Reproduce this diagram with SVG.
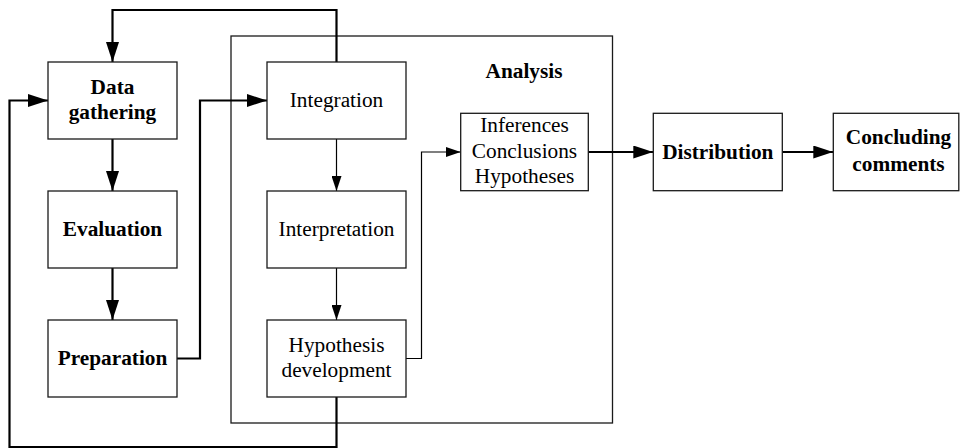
<svg xmlns="http://www.w3.org/2000/svg" width="960" height="448" viewBox="0 0 960 448">
  <style>
    .box { fill: #fff; stroke: #1a1a1a; stroke-width: 1.3; }
    .frame { fill: none; stroke: #1a1a1a; stroke-width: 1.3; }
    .thick { fill: none; stroke: #000; stroke-width: 2.2; }
    .thin { fill: none; stroke: #000; stroke-width: 1.2; }
    text { font-family: "Liberation Serif", "Times New Roman", serif; font-size: 21.3px; fill: #000; text-anchor: middle; }
    .b { font-weight: bold; }
  </style>
  <defs>
    <marker id="arrowBig" markerUnits="userSpaceOnUse" markerWidth="20" markerHeight="13" refX="20" refY="6.5" orient="auto">
      <path d="M0,0 L20,6.5 L0,13 z" fill="#000"/>
    </marker>
    <marker id="arrowSmall" markerUnits="userSpaceOnUse" markerWidth="15" markerHeight="10" refX="15" refY="5" orient="auto">
      <path d="M0,0 L15,5 L0,10 z" fill="#000"/>
    </marker>
  </defs>

  <!-- Analysis frame -->
  <g id="analysis">
    <rect class="frame" x="231" y="36" width="381.5" height="387"/>
    <text class="b" x="524" y="78">Analysis</text>
  </g>

  <g id="connectors">
    <!-- feedback from integration back to data gathering -->
    <path class="thick" d="M336.5,62 V10 H112.5 V62" marker-end="url(#arrowBig)"/>
    <!-- feedback from hypothesis development back to data gathering -->
    <path class="thick" d="M336.5,397 V447 H9.5 V100.5 H48" marker-end="url(#arrowBig)"/>
    <path class="thick" d="M112.5,139 V191" marker-end="url(#arrowBig)"/>
    <path class="thick" d="M112.5,268 V320" marker-end="url(#arrowBig)"/>
    <path class="thick" d="M177,358.5 H200 V100.5 H267" marker-end="url(#arrowBig)"/>
    <path class="thin" d="M336.5,139 V191" marker-end="url(#arrowSmall)"/>
    <path class="thin" d="M336.5,268 V320" marker-end="url(#arrowSmall)"/>
    <path class="thin" d="M406,358.5 H421.5 V152 H460.7" marker-end="url(#arrowSmall)"/>
    <path class="thick" d="M588.3,152 H653.3" marker-end="url(#arrowBig)"/>
    <path class="thick" d="M782.3,152 H833.3" marker-end="url(#arrowBig)"/>
  </g>

  <g id="data-gathering">
    <rect class="box" x="48" y="62" width="129" height="77"/>
    <text class="b" x="112.5" y="94">Data</text>
    <text class="b" x="112.5" y="119">gathering</text>
  </g>
  <g id="evaluation">
    <rect class="box" x="48" y="191" width="129" height="77"/>
    <text class="b" x="112.5" y="236">Evaluation</text>
  </g>
  <g id="preparation">
    <rect class="box" x="48" y="320" width="129" height="77"/>
    <text class="b" x="112.5" y="365">Preparation</text>
  </g>
  <g id="integration">
    <rect class="box" x="267" y="62" width="139" height="77"/>
    <text x="336.5" y="107">Integration</text>
  </g>
  <g id="interpretation">
    <rect class="box" x="267" y="191" width="139" height="77"/>
    <text x="336.5" y="236">Interpretation</text>
  </g>
  <g id="hypothesis-development">
    <rect class="box" x="267" y="320" width="139" height="77"/>
    <text x="336.5" y="352">Hypothesis</text>
    <text x="336.5" y="377">development</text>
  </g>
  <g id="inferences">
    <rect class="box" x="460.7" y="113.3" width="127.6" height="77.4"/>
    <text x="524.5" y="132">Inferences</text>
    <text x="524.5" y="158">Conclusions</text>
    <text x="524.5" y="183">Hypotheses</text>
  </g>
  <g id="distribution">
    <rect class="box" x="653.3" y="113.3" width="129" height="77.4"/>
    <text class="b" x="717.8" y="159">Distribution</text>
  </g>
  <g id="concluding-comments">
    <rect class="box" x="833.3" y="113.3" width="125.5" height="77.4"/>
    <text class="b" x="898.5" y="144">Concluding</text>
    <text class="b" x="898.5" y="171">comments</text>
  </g>
</svg>
